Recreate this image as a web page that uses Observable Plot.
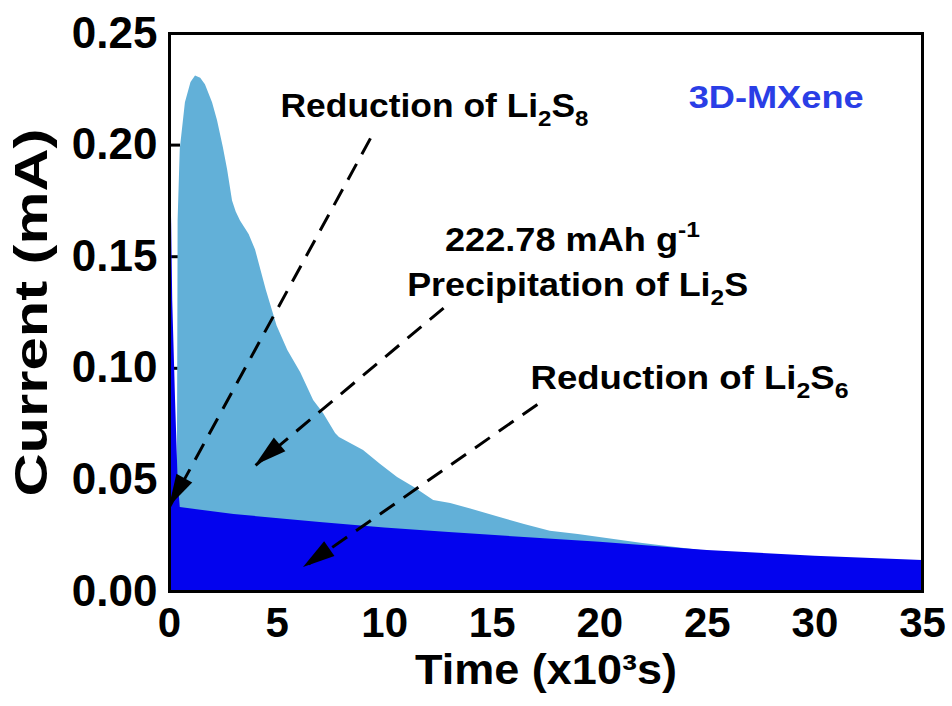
<!DOCTYPE html>
<html><head><meta charset="utf-8">
<script src="https://cdn.jsdelivr.net/npm/d3@7"></script>
<script src="https://cdn.jsdelivr.net/npm/@observablehq/plot@0.6"></script>
<style>
body{margin:0;background:#fff}
#chart{width:952px;height:706px}
</style>
</head><body><div id="chart"></div>
<script>
// ---- data ----
// Li2S precipitation current (light blue), time in 10^3 s, current in mA
const lightT = [0, 0.04, 0.1, 0.3, 0.36, 0.38, 0.40, 0.5, 0.74, 1.0, 1.21, 1.45, 1.67, 2.0, 2.23, 2.5, 2.7, 2.93, 3.1, 3.3, 3.7, 4.0, 4.5, 5.0, 5.5, 6.1, 6.7, 7.16, 7.72, 7.9, 9.02, 9.8, 10.6, 11.4, 12.28, 13.07, 14.0, 15.4, 16.5, 17.7, 19.0, 20.0, 22.0, 24.7, 27.0, 29.3, 32.0, 35.0];
const lightV = [0.25, 0.2, 0.06, 0.04, 0.05, 0.09, 0.166, 0.198, 0.219, 0.228, 0.231, 0.230, 0.227, 0.219, 0.211, 0.199, 0.189, 0.175, 0.170, 0.166, 0.160, 0.153, 0.135, 0.119, 0.108, 0.098, 0.0856, 0.0797, 0.0708, 0.069, 0.0632, 0.057, 0.0511, 0.0465, 0.0408, 0.0394, 0.037, 0.033, 0.030, 0.027, 0.0255, 0.0242, 0.0215, 0.0184, 0.0162, 0.0145, 0.0135, 0.0125];
// Reduction current baseline (dark blue)
const darkT = [0, 0.05, 0.1, 0.15, 0.28, 0.4, 0.5, 3, 7, 10, 13, 16.5, 20, 25, 30, 35];
const darkV = [0.208, 0.19, 0.165, 0.13, 0.086, 0.05, 0.0376, 0.0345, 0.0309, 0.0285, 0.0264, 0.0242, 0.0221, 0.0184, 0.0158, 0.0139];

// annotation arrows (start -> tip), data units
const arrowT1 = [9.34, 12.74, 17.1];
const arrowV1 = [0.203, 0.127, 0.0838];
const arrowT2 = [0.0, 4.0, 6.23];
const arrowV2 = [0.038, 0.0565, 0.0108];

// annotation labels and anchor points
const annLabels = ["Reduction of Li_{2}S_{8}", "222.78 mAh g^{-1}", "Precipitation of Li_{2}S", "Reduction of Li_{2}S_{6}", "3D-MXene"];
const annT = [5.16, 18.73, 18.97, 16.78, 24.13];
const annV = [0.2174, 0.1573, 0.1371, 0.0954, 0.2213];

const xTicks = [0, 5, 10, 15, 20, 25, 30, 35];
const yTicks = [0, 0.05, 0.10, 0.15, 0.20, 0.25];
const xTitle = "Time (x10³s)";
const yTitle = "Current (mA)";

// ---- build tables ----
const light = lightT.map((t, i) => ({t, v: lightV[i]}));
const dark = darkT.map((t, i) => ({t, v: darkV[i]}));
const arrows = arrowT1.map((t, i) => ({t1: t, v1: arrowV1[i], t2: arrowT2[i], v2: arrowV2[i]}));
const anns = annLabels.map((s, i) => ({s, t: annT[i], v: annV[i]}));

const FONT = "'Liberation Sans', Arial, Helvetica, sans-serif";
const annStart = anns.filter((d, i) => i === 0 || i === 3);
const annMid = anns.filter((d, i) => i === 1 || i === 2);
const annBlue = anns.filter((d, i) => i === 4);

function arrowHeads(index, scales) {
  const g = d3.create("svg:g");
  arrows.forEach(a => {
    const x1 = scales.x(a.t1), y1 = scales.y(a.v1), x2 = scales.x(a.t2), y2 = scales.y(a.v2);
    const dx = x2 - x1, dy = y2 - y1, len = Math.hypot(dx, dy), ux = dx / len, uy = dy / len;
    const L = 32, W = 9;
    const bx = x2 - L * ux, by = y2 - L * uy;
    g.append("path")
      .attr("d", `M${x2},${y2}L${bx - W * uy},${by + W * ux}L${bx + W * uy},${by - W * ux}Z`)
      .attr("fill", "black");
  });
  return g.node();
}

const svg = Plot.plot({
  width: 952, height: 706,
  marginLeft: 169, marginRight: 30, marginTop: 33, marginBottom: 115,
  style: {fontFamily: FONT, fontWeight: "bold", background: "white", color: "black"},
  x: {domain: [0, 35]},
  y: {domain: [0, 0.25]},
  marks: [
    Plot.axisY({ticks: yTicks, anchor: "left", tickSize: 11, dx: 11, tickPadding: 12, strokeWidth: 3,
      tickFormat: d3.format(".2f"), fontSize: 44, fontWeight: "bold", label: null}),
    Plot.axisX({ticks: xTicks, anchor: "bottom", tickSize: 11, dy: -11, tickPadding: 16, strokeWidth: 3,
      tickFormat: d3.format("d"), fontSize: 42, fontWeight: "bold", label: null}),
    Plot.areaY(light, {x: "t", y: "v", fill: "#62b0d8"}),
    Plot.areaY(dark, {x: "t", y: "v", fill: "#0303ee"}),
    Plot.frame({stroke: "black", strokeWidth: 3}),
    Plot.link(arrows, {x1: "t1", y1: "v1", x2: "t2", y2: "v2", stroke: "black", strokeWidth: 3, strokeDasharray: "18,11"}),
    arrowHeads,
    Plot.text(annStart, {x: "t", y: "v", text: "s", textAnchor: "start", lineAnchor: "middle", fontSize: 33, fontWeight: "bold", fill: "black"}),
    Plot.text(annMid, {x: "t", y: "v", text: "s", textAnchor: "middle", lineAnchor: "middle", fontSize: 33, fontWeight: "bold", fill: "black"}),
    Plot.text(annBlue, {x: "t", y: "v", text: "s", textAnchor: "start", lineAnchor: "middle", fontSize: 32, fontWeight: "bold", fill: "#2a3ee6"}),
    Plot.text([yTitle], {text: d => d, frameAnchor: "left", textAnchor: "middle", lineAnchor: "middle", rotate: -90, dx: -137, fontSize: 46, fontWeight: "bold", fill: "black"}),
    Plot.text([xTitle], {text: d => d, frameAnchor: "bottom", textAnchor: "middle", lineAnchor: "middle", dy: 79, fontSize: 42, fontWeight: "bold", fill: "black"})
  ]
});

// rich text (sub/superscripts) and widths matching the reference
const widths = new Map([
  ["Reduction of Li_{2}S_{8}", 308], ["222.78 mAh g^{-1}", 255], ["Precipitation of Li_{2}S", 341],
  ["Reduction of Li_{2}S_{6}", 318], ["3D-MXene", 175], [yTitle, 368], [xTitle, 262]
]);
const NS = "http://www.w3.org/2000/svg";
svg.querySelectorAll("text").forEach(el => {
  const raw = el.textContent;
  if (!widths.has(raw)) return;
  const fs = parseFloat(el.getAttribute("font-size") || el.parentNode.getAttribute("font-size") || 33);
  if (/[_^]\{/.test(raw)) {
    el.textContent = "";
    let shift = 0;
    for (const m of raw.matchAll(/([_^])\{([^}]*)\}|([^_^]+)/g)) {
      const ts = document.createElementNS(NS, "tspan");
      if (m[3] !== undefined) {
        ts.textContent = m[3];
        if (shift !== 0) ts.setAttribute("dy", -shift);
        shift = 0;
      } else {
        const d = m[1] === "_" ? 0.28 * fs : -0.42 * fs;
        ts.setAttribute("font-size", 0.68 * fs);
        ts.setAttribute("dy", d - shift);
        shift = d;
        ts.textContent = m[2];
      }
      el.appendChild(ts);
    }
  }
  el.setAttribute("textLength", widths.get(raw));
  el.setAttribute("lengthAdjust", "spacingAndGlyphs");
});

document.getElementById("chart").appendChild(svg);
</script>
</body></html>
